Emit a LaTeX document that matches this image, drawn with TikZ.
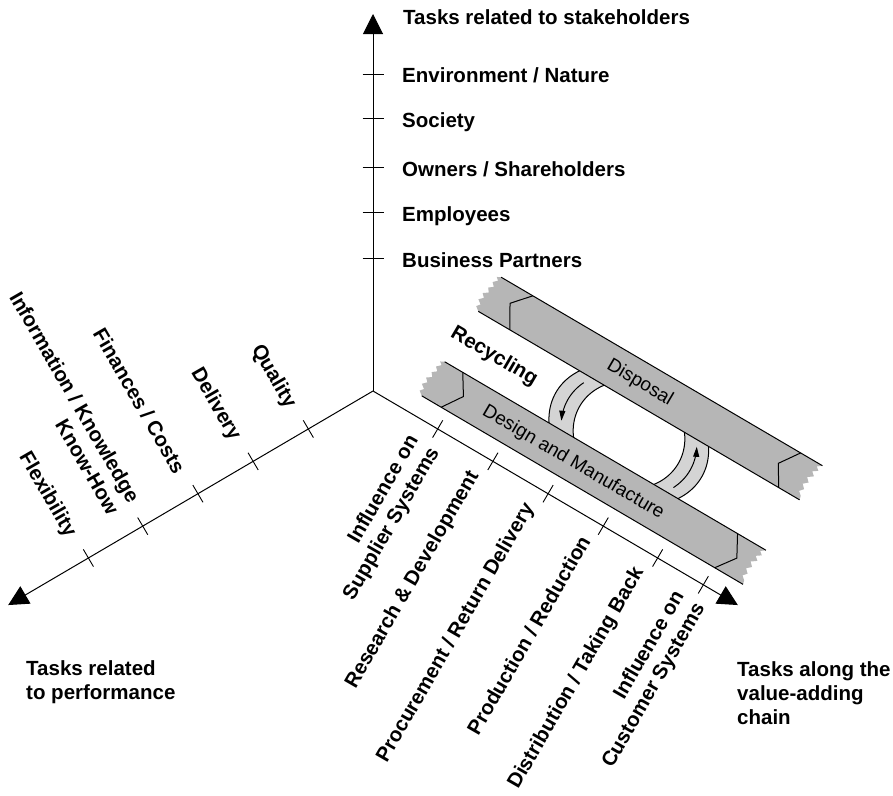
\documentclass[tikz,border=0pt]{standalone}
\usepackage{fontspec}
\setmainfont{Liberation Sans}
\usetikzlibrary{arrows.meta,calc}
\definecolor{bandgray}{RGB}{182,182,182}
\definecolor{ringgray}{RGB}{212,212,212}
\begin{document}
\begin{tikzpicture}[x=1pt,y=-1pt,
  axis/.style={line width=1pt,-{Triangle[length=20pt,width=20pt]}},
  tickline/.style={line width=0.9pt},
  lab/.style={font=\fontsize{20.5}{24}\selectfont\bfseries,inner sep=0pt},
  bandtxt/.style={font=\fontsize{19}{23}\selectfont,inner sep=0pt,rotate=-30.4},
  edgeline/.style={line width=1pt},
  ringarrow/.style={line width=1pt,-{Triangle[length=10pt,width=6pt]}}
  ]
\useasboundingbox (0,0) rectangle (893,795);

\coordinate (O) at (373,391);
\coordinate (Top) at ($(O)+(-90:377)$);
\coordinate (Left) at ($(O)+(149.6:423)$);
\coordinate (Right) at ($(O)+(30.4:423)$);

% ---------- bands and ring (frame along the value chain) ----------
\begin{scope}[shift={(O)},rotate=-30.4]
  % ring, left part
  \fill[ringgray] plot[domain=152.5:207.5,samples=40] ({242.75+84.25*cos(\x)},{-91.75+65.5*sin(\x)})
     -- plot[domain=215.3:144.7,samples=40] ({243+57*cos(\x)},{-91.75+52.3*sin(\x)}) -- cycle;
  \draw[edgeline] plot[domain=152.5:207.5,samples=40] ({242.75+84.25*cos(\x)},{-91.75+65.5*sin(\x)});
  \draw[edgeline] plot[domain=215.3:144.7,samples=40] ({243+57*cos(\x)},{-91.75+52.3*sin(\x)});
  % ring, right part
  \fill[ringgray] plot[domain=-27.5:27.5,samples=40] ({242.75+84.25*cos(\x)},{-91.75+65.5*sin(\x)})
     -- plot[domain=35.3:-35.3,samples=40] ({243+57*cos(\x)},{-91.75+52.3*sin(\x)}) -- cycle;
  \draw[edgeline] plot[domain=-27.5:27.5,samples=40] ({242.75+84.25*cos(\x)},{-91.75+65.5*sin(\x)});
  \draw[edgeline] plot[domain=35.3:-35.3,samples=40] ({243+57*cos(\x)},{-91.75+52.3*sin(\x)});
  % ring arrows
  \draw[ringarrow] plot[domain=202:158,samples=30] ({243+70.6*cos(\x)},{-91.75+58.9*sin(\x)});
  \draw[ringarrow] plot[domain=23:-24,samples=30] ({243+70.6*cos(\x)},{-91.75+58.9*sin(\x)});

  % the two bands
  \foreach \sx/\sy in {0/0,6/-101.5} {
    \begin{scope}[shift={(\sx,\sy)}]
      \fill[bandgray] (47,-61.5) -- (419.5,-61.5) -- (415,-58) -- (418.5,-55) -- (413.5,-51.5)
        -- (417.5,-48) -- (412,-44) -- (416,-40) -- (411.5,-36) -- (415.5,-32) -- (412,-28)
        -- (416,-24.5) -- (417,-20.5) -- (44.5,-20.5) -- (40,-24) -- (43,-27.5) -- (38.5,-31)
        -- (42.5,-35) -- (39,-38.5) -- (44,-42) -- (41,-46) -- (45.5,-49.5) -- (42,-53)
        -- (46,-57) -- (43,-59.5) -- cycle;
      \draw[edgeline] (47,-61.5) -- (419.5,-61.5);
      \draw[edgeline] (44.5,-20.5) -- (417,-20.5);
    \end{scope}
  }
  % cut sections
  \draw[edgeline] (68,-61.5) -- (80.8,-41) -- (67,-20.5);
  \draw[edgeline] (386.6,-61.5) -- (398.4,-40) -- (384.2,-20.5);
  \draw[edgeline] (89.7,-163) -- (73.8,-145) -- (87,-122);
  \draw[edgeline] (400.2,-163) -- (386.2,-142.7) -- (398.8,-122);

  \node[bandtxt] (disp) at (226,-142) {Disposal};
  \node[bandtxt] (dm) at (209,-39.5) {Design and Manufacture};
  \node[lab,rotate=-30.4] (rec) at (87,-91) {Recycling};
\end{scope}

% ---------- axes ----------
\draw[axis] (O) -- (Top);
\draw[axis] (O) -- (Left);
\draw[axis] (O) -- (Right);

% vertical ticks and labels
\foreach \ty in {74,118.7,167.7,212.7,258.3}
  \draw[tickline] (362.5,\ty) -- (383.5,\ty);
\node[lab,anchor=base west] (env) at (402,82.7) {Environment / Nature};
\node[lab,anchor=base west] (soc) at (402,127.4) {Society};
\node[lab,anchor=base west] (own) at (402,176.4) {Owners / Shareholders};
\node[lab,anchor=base west] (emp) at (402,221.4) {Employees};
\node[lab,anchor=base west] (bus) at (402,267) {Business Partners};

% left ticks
\foreach \s in {75,139,203,267,330}
  \draw[tickline] ($(O)+(149.6:\s)+(59.6:10)$) -- ($(O)+(149.6:\s)+(239.6:10)$);
% right ticks
\foreach \s in {75,139,203,267,330,383}
  \draw[tickline] ($(O)+(30.4:\s)+(120.4:10)$) -- ($(O)+(30.4:\s)+(-59.6:10)$);

% left labels
\node[lab,rotate=-60,anchor=east] (qual) at ($(O)+(149.6:79)+(239.6:28)$) {Quality};
\node[lab,rotate=-60,anchor=east] (deliv) at ($(O)+(149.6:143)+(239.6:28)$) {Delivery};
\node[lab,rotate=-60,anchor=east] (fin) at ($(O)+(149.6:207)+(239.6:28)$) {Finances / Costs};
\node[lab,rotate=-60,anchor=east,align=right] (info) at ($(O)+(149.6:273)+(239.6:26)$) {Information / Knowledge\\Know-How};
\node[lab,rotate=-60,anchor=east] (flex) at ($(O)+(149.6:334)+(239.6:28)$) {Flexibility};

% right labels
\node[lab,rotate=60,anchor=east,align=right] (sup) at ($(O)+(30.4:71)+(120.4:19)$) {Influence on\\Supplier Systems};
\node[lab,rotate=60,anchor=east] (rd) at ($(O)+(30.4:129)+(120.4:19)$) {Research \& Development};
\node[lab,rotate=60,anchor=east] (proc) at ($(O)+(30.4:193)+(120.4:19)$) {Procurement / Return Delivery};
\node[lab,rotate=60,anchor=east] (prod) at ($(O)+(30.4:257)+(120.4:19)$) {Production / Reduction};
\node[lab,rotate=60,anchor=east] (dist) at ($(O)+(30.4:320)+(120.4:19)$) {Distribution / Taking Back};
\node[lab,rotate=60,anchor=east,align=right] (cust) at ($(O)+(30.4:379)+(120.4:19)$) {Influence on\\Customer Systems};

% axis titles
\node[lab,anchor=base west] (tstake) at (403,24) {Tasks related to stakeholders};
\node[lab,anchor=north west,align=left] (tperf) at (26,660.5) {Tasks related\\to performance};
\node[lab,anchor=north west,align=left] (tchain) at (737,661.5) {Tasks along the\\value-adding\\chain};
\end{tikzpicture}
\end{document}
